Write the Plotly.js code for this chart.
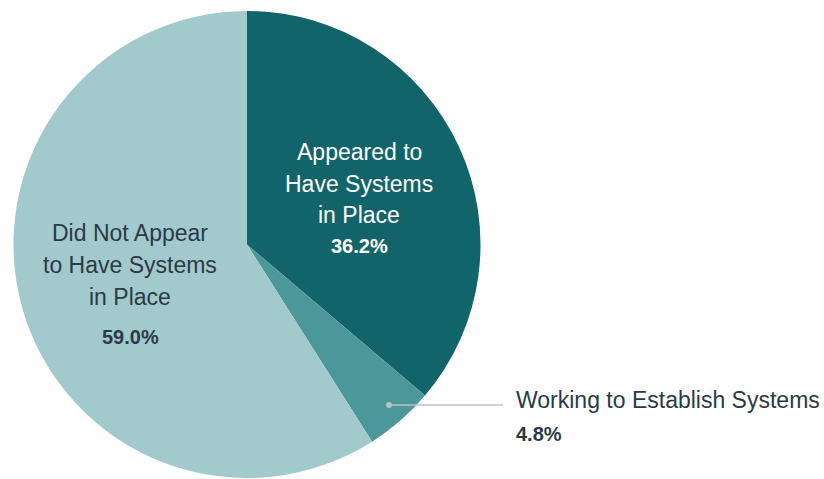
<!DOCTYPE html>
<html>
<head>
<meta charset="utf-8">
<script src="https://cdn.plot.ly/plotly-3.0.1.min.js"></script>
<style>html,body{margin:0;padding:0;background:#fff}#chart{width:824px;height:479px}</style>
</head>
<body>
<div id="chart"></div>
<script>
// Data
const labels = ["Appeared to Have Systems in Place", "Working to Establish Systems", "Did Not Appear to Have Systems in Place"];
const values = [36.2, 4.8, 59.0];
const colors = ["#11656a", "#4c9799", "#a2c9cb"];
const labelLines = [
  ["Appeared to", "Have Systems", "in Place"],
  ["Working to Establish Systems"],
  ["Did Not Appear", "to Have Systems", "in Place"]
];

const W = 824, H = 479;
const px = x => x / W;
const py = y => 1 - y / H;
const font = "Liberation Sans, Arial, sans-serif";
const dark = "#2b3a48";

const annotations = [];
function addLines(lines, x, y0, step, color, anchor) {
  lines.forEach((t, i) => {
    annotations.push({xref: "paper", yref: "paper", x: px(x), y: py(y0 + i * step),
      text: t, showarrow: false, xanchor: anchor, yanchor: "middle",
      font: {family: font, size: 23, color: color}});
  });
}
function addPct(v, x, y, color, anchor) {
  annotations.push({xref: "paper", yref: "paper", x: px(x), y: py(y),
    text: "<b>" + v.toFixed(1) + "%</b>", showarrow: false, xanchor: anchor, yanchor: "middle",
    font: {family: font, size: 20, color: color}});
}
// slice 0
addLines(labelLines[0], 359, 152, 31.5, "#ffffff", "center");
addPct(values[0], 359, 246, "#ffffff", "center");
// slice 2
addLines(labelLines[2], 130, 233, 32, dark, "center");
addPct(values[2], 130, 337, dark, "center");
// slice 1 (outside)
addLines(labelLines[1], 514, 400, 31, dark, "left");
addPct(values[1], 514, 434, dark, "left");

const shapes = [
  {type: "line", xref: "paper", yref: "paper", x0: px(389), x1: px(503), y0: py(405), y1: py(405),
   line: {color: "#b9c3c9", width: 1.5}},
  {type: "circle", xref: "paper", yref: "paper", x0: px(386), x1: px(392), y0: py(402), y1: py(408),
   fillcolor: "#b9c3c9", line: {width: 0}}
];

const trace = {
  type: "pie",
  labels: labels,
  values: values,
  sort: false,
  direction: "clockwise",
  rotation: 0,
  textinfo: "none",
  hoverinfo: "label+percent",
  marker: {colors: colors, line: {width: 0}},
  domain: {x: [px(13.5), px(480.5)], y: [py(478), py(11)]},
  showlegend: false
};

Plotly.newPlot("chart", [trace], {
  width: W, height: H,
  margin: {l: 0, r: 0, t: 0, b: 0},
  paper_bgcolor: "#ffffff",
  annotations: annotations,
  shapes: shapes,
  showlegend: false
}, {displayModeBar: false, staticPlot: true});
</script>
</body>
</html>
